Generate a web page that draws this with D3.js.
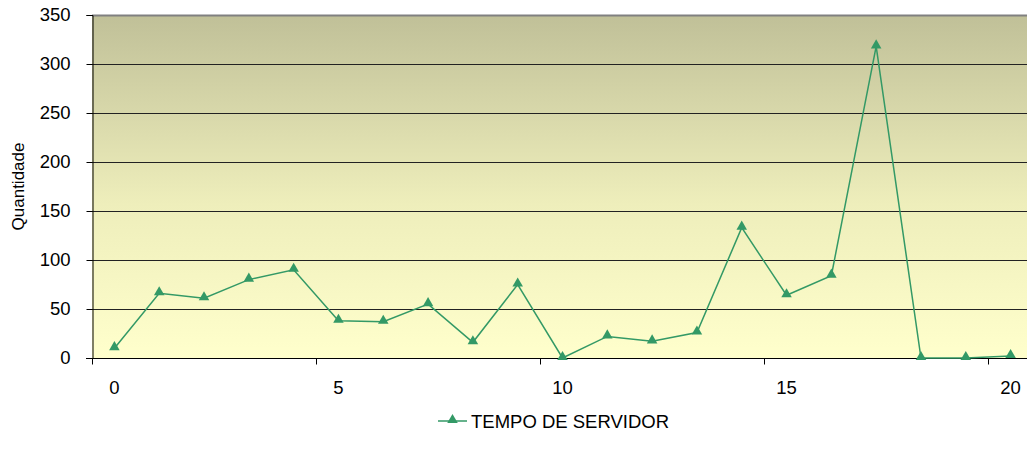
<!DOCTYPE html>
<html>
<head>
<meta charset="utf-8">
<script src="https://cdn.jsdelivr.net/npm/d3@7"></script>
<style>
  body { margin: 0; background: #fff; }
  svg { display: block; font-family: "Liberation Sans", Arial, sans-serif; }
  svg text { font-size: 18.5px; fill: #000; }
  svg text.ytitle { font-size: 17px; }
</style>
</head>
<body>
<div id="chart"></div>
<script>
// categories 0..20
var categories = d3.range(0, 21);
var serverTime = [10, 66, 61, 80, 90, 38, 37, 55, 16, 75, 0, 22, 17, 26, 133, 64, 84, 318, 0, 0, 2];
var yTicks = [0, 50, 100, 150, 200, 250, 300, 350];
var xLabels = [0, 5, 10, 15, 20];
var seriesName = "TEMPO DE SERVIDOR";
var yTitle = "Quantidade";

var width = 1027, height = 462;
var margin = {top: 15, right: -6, bottom: 104, left: 92};
var color = "#339966";

var svg = d3.select("#chart").append("svg")
  .attr("width", width)
  .attr("height", height);

var x = d3.scaleBand()
  .domain(categories)
  .range([margin.left, width - margin.right]);

var y = d3.scaleLinear()
  .domain([0, 350])
  .range([height - margin.bottom, margin.top]);

var defs = svg.append("defs");
var grad = defs.append("linearGradient")
  .attr("id", "bg")
  .attr("x1", 0).attr("y1", 0).attr("x2", 0).attr("y2", 1);
grad.append("stop").attr("offset", "0%").attr("stop-color", "#c0c098");
grad.append("stop").attr("offset", "55%").attr("stop-color", "#eeeebb");
grad.append("stop").attr("offset", "100%").attr("stop-color", "#ffffcc");

svg.append("rect")
  .attr("x", margin.left)
  .attr("y", y(350))
  .attr("width", width - margin.left)
  .attr("height", y(0) - y(350))
  .attr("fill", "url(#bg)");

// gridlines
svg.append("g")
  .selectAll("line")
  .data(yTicks.filter(function(d) { return d > 0; }))
  .join("line")
  .attr("x1", margin.left).attr("x2", width)
  .attr("y1", function(d) { return Math.round(y(d)) + 0.5; })
  .attr("y2", function(d) { return Math.round(y(d)) + 0.5; })
  .attr("stroke", function(d) { return d === 350 ? "#808080" : "#222"; })
  .attr("stroke-width", function(d) { return d === 350 ? 2 : 1; });

// y axis
var yAxis = svg.append("g")
  .attr("transform", "translate(" + (margin.left + 0.5) + ",0)")
  .call(d3.axisLeft(y).tickValues(yTicks).tickSize(6).tickPadding(16));
yAxis.attr("font-size", null).attr("font-family", null);
yAxis.select(".domain").attr("stroke", "#000");
yAxis.selectAll(".tick line").attr("stroke", "#000");
yAxis.selectAll("text").attr("fill", null);

// x axis: ticks at category boundaries every 5
var xAxisG = svg.append("g")
  .attr("transform", "translate(0," + (Math.round(y(0)) + 0.5) + ")");
xAxisG.append("line")
  .attr("x1", margin.left - 6).attr("x2", width)
  .attr("stroke", "#000");
xAxisG.selectAll(".xt")
  .data(xLabels.slice(1))
  .join("line")
  .attr("class", "xt")
  .attr("x1", function(d) { return Math.round(x(d)) + 0.5; })
  .attr("x2", function(d) { return Math.round(x(d)) + 0.5; })
  .attr("y1", 0).attr("y2", 6)
  .attr("stroke", "#000");
xAxisG.append("line")
  .attr("x1", margin.left + 0.5).attr("x2", margin.left + 0.5)
  .attr("y1", 0).attr("y2", 6).attr("stroke", "#000");
xAxisG.selectAll("text")
  .data(xLabels)
  .join("text")
  .attr("x", function(d) { return x(d) + x.bandwidth() / 2; })
  .attr("y", 35)
  .attr("text-anchor", "middle")
  .text(function(d) { return d; });

// y title
svg.append("text")
  .attr("class", "ytitle")
  .attr("transform", "translate(24," + ((y(0) + y(350)) / 2) + ") rotate(-90)")
  .attr("text-anchor", "middle")
  .text(yTitle);

// line
var cx = function(d, i) { return x(categories[i]) + x.bandwidth() / 2; };
var line = d3.line()
  .x(cx)
  .y(function(d) { return y(d); });

svg.append("path")
  .datum(serverTime)
  .attr("fill", "none")
  .attr("stroke", color)
  .attr("stroke-width", 1.5)
  .attr("d", line);

var tri = d3.symbol().type(d3.symbolTriangle).size(48);
svg.append("g")
  .selectAll("path")
  .data(serverTime)
  .join("path")
  .attr("d", tri)
  .attr("transform", function(d, i) { return "translate(" + cx(d, i) + "," + (y(d) - 1) + ")"; })
  .attr("fill", color);

// legend
var lg = svg.append("g").attr("transform", "translate(438,421)");
lg.append("line").attr("x1", 0).attr("x2", 29).attr("stroke", color).attr("stroke-width", 1.5);
lg.append("path").attr("d", tri).attr("transform", "translate(14.5,-1)").attr("fill", color);
lg.append("text")
  .attr("x", 33).attr("y", 7)
  .text(seriesName);
</script>
</body>
</html>
